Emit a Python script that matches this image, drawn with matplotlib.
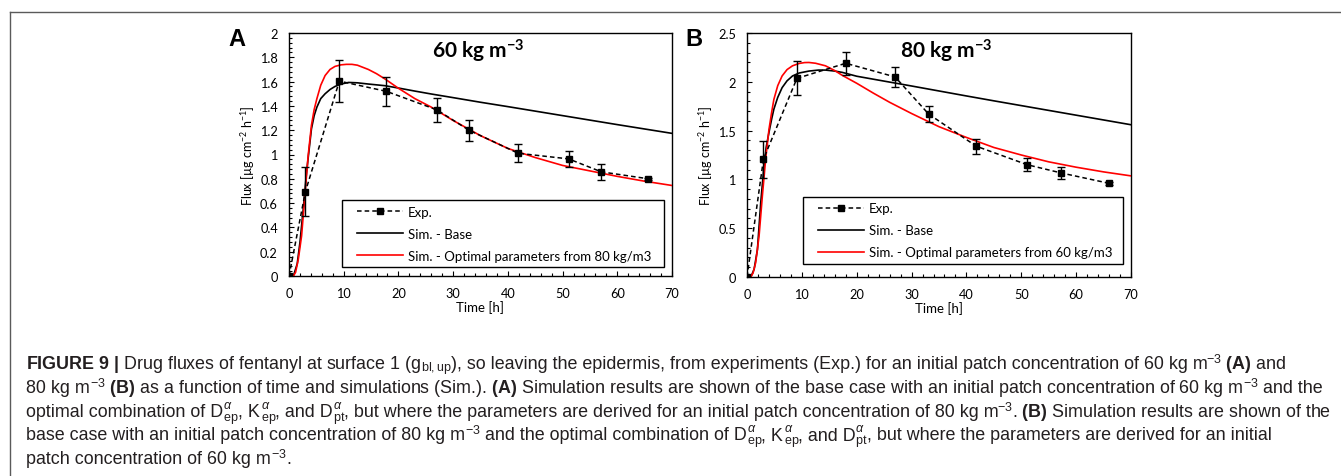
import matplotlib
matplotlib.use("Agg")
import matplotlib.pyplot as plt
from matplotlib.lines import Line2D
from matplotlib.ticker import MultipleLocator
from matplotlib.legend_handler import HandlerLine2D

plt.rcParams['mathtext.fontset'] = 'custom'
plt.rcParams['mathtext.rm'] = 'Liberation Sans'
plt.rcParams['mathtext.it'] = 'Liberation Sans:italic'
plt.rcParams['mathtext.bf'] = 'Liberation Sans:bold'
plt.rcParams['font.family'] = ['Lato', 'DejaVu Sans']

# ---------------- data ----------------
# Panel A (60 kg m-3)
expA_t = [0, 3.0, 9.2, 17.8, 27.0, 32.9, 41.9, 51.1, 57.1, 65.7]
expA_y = [0, 0.695, 1.604, 1.52, 1.368, 1.20, 1.01, 0.964, 0.857, 0.80]
expA_err = [0, 0.20, 0.17, 0.12, 0.10, 0.085, 0.075, 0.065, 0.065, 0.01]

baseA_t = [0, 0.8, 1.5, 2.0, 2.6, 3.2, 3.7, 4.1, 4.6, 5.1, 5.8, 6.6, 7.5, 8.4, 9.5,
           10.9, 12.5, 14.5, 17.6, 20, 23, 26, 30, 35, 40, 45, 50, 55, 60, 65, 70]
baseA_y = [0, 0, 0.10, 0.275, 0.55, 0.85, 1.05, 1.21, 1.32, 1.39, 1.46, 1.50, 1.535, 1.56, 1.58,
           1.593, 1.59, 1.58, 1.566, 1.547, 1.522, 1.498, 1.468, 1.43, 1.394, 1.357, 1.32,
           1.283, 1.246, 1.21, 1.174]

optA_t = [0, 0.8, 1.2, 1.7, 2.3, 2.9, 3.5, 4.1, 4.6, 5.1, 5.8, 6.6, 7.5, 8.4, 9.5, 10.5,
          11.5, 12.5, 14.5, 16, 17.6, 20, 23, 26, 30, 35, 40, 45, 50, 55, 60, 65, 70]
optA_y = [0, 0, 0.03, 0.137, 0.33, 0.66, 0.99, 1.24, 1.37, 1.46, 1.57, 1.65, 1.70, 1.725,
          1.738, 1.742, 1.742, 1.735, 1.70, 1.665, 1.62, 1.545, 1.46, 1.39, 1.28, 1.155,
          1.05, 0.975, 0.91, 0.865, 0.82, 0.78, 0.745]

# Panel B (80 kg m-3)
expB_t = [0, 3.0, 9.1, 18.0, 27.0, 33.1, 41.8, 51.1, 57.2, 66.0]
expB_y = [0, 1.207, 2.035, 2.19, 2.05, 1.67, 1.34, 1.15, 1.067, 0.96]
expB_err = [0, 0.19, 0.175, 0.12, 0.10, 0.085, 0.077, 0.068, 0.065, 0.015]

baseB_t = [0, 0.7, 1.3, 1.9, 2.5, 3.1, 3.5, 4.0, 4.5, 4.9, 5.6, 6.4, 7.3, 8.3, 9.5, 11.3,
           13, 14.3, 16, 17.4, 20, 23, 26, 30, 35, 40, 45, 50, 55, 60, 65, 70]
baseB_y = [0, 0, 0.08, 0.28, 0.76, 1.14, 1.33, 1.48, 1.62, 1.72, 1.84, 1.94, 2.01, 2.06,
           2.09, 2.11, 2.12, 2.12, 2.11, 2.096, 2.057, 2.027, 1.997, 1.957, 1.906, 1.855,
           1.805, 1.756, 1.707, 1.658, 1.609, 1.56]

optB_t = [0, 0.67, 1.1, 1.58, 2.2, 2.8, 3.4, 4.0, 4.5, 4.9, 5.6, 6.4, 7.3, 8.3, 9.5, 10.5,
          11.3, 12.5, 14.3, 16, 17.4, 20, 23, 26, 30, 35, 40, 45, 50, 55, 60, 65, 70]
optB_y = [0, 0, 0.04, 0.147, 0.42, 0.83, 1.207, 1.51, 1.69, 1.82, 1.96, 2.06, 2.125, 2.164,
          2.188, 2.197, 2.198, 2.19, 2.164, 2.115, 2.065, 1.985, 1.885, 1.79, 1.675, 1.54,
          1.43, 1.327, 1.25, 1.18, 1.125, 1.077, 1.036]

panels = [
    dict(letter='A', title='60', exp=(expA_t, expA_y, expA_err), base=(baseA_t, baseA_y),
         opt=(optA_t, optA_y), ymax=2.0, ymaj=0.2, ymin_=0.04,
         yticks=['0', '0.2', '0.4', '0.6', '0.8', '1', '1.2', '1.4', '1.6', '1.8', '2'],
         optlabel='Sim. - Optimal parameters from 80 kg/m3',
         rect=[289, 34, 672, 277], title_x=0.493, leg=(0.139, 0.035, 0.841, 0.292),
         letter_x=237),
    dict(letter='B', title='80', exp=(expB_t, expB_y, expB_err), base=(baseB_t, baseB_y),
         opt=(optB_t, optB_y), ymax=2.5, ymaj=0.5, ymin_=0.1,
         yticks=['0', '0.5', '1', '1.5', '2', '2.5'],
         optlabel='Sim. - Optimal parameters from 60 kg/m3',
         rect=[747, 34, 1131, 278], title_x=0.52, leg=(0.145, 0.052, 0.835, 0.29),
         letter_x=694),
]

# caption, split into chunks at sub/superscripts
cap_lines = [
    [r'$\mathbf{FIGURE\ 9\ |}$ Drug fluxes of fentanyl at surface 1 (g', r'$_{\mathrm{bl,up}}$',
     '), so leaving the epidermis, from experiments (Exp.) for an initial patch concentration of 60 kg m',
     r'$^{-3}$', r' $\mathbf{(A)}$ and'],
    ['80 kg m', r'$^{-3}$',
     r' $\mathbf{(B)}$ as a function of time and simulations (Sim.). $\mathbf{(A)}$ Simulation results are shown of the base case with an initial patch concentration of 60 kg m',
     r'$^{-3}$', ' and the'],
    ['optimal combination of D', r'$_{\mathrm{ep}}^{\alpha}$', ', K', r'$_{\mathrm{ep}}^{\alpha}$',
     ', and D', r'$_{\mathrm{pt}}^{\alpha}$',
     ', but where the parameters are derived for an initial patch concentration of 80 kg m',
     r'$^{-3}$', r'. $\mathbf{(B)}$ Simulation results are shown of the'],
    ['base case with an initial patch concentration of 80 kg m', r'$^{-3}$',
     ' and the optimal combination of D', r'$_{\mathrm{ep}}^{\alpha}$', ', K',
     r'$_{\mathrm{ep}}^{\alpha}$', ', and D', r'$_{\mathrm{pt}}^{\alpha}$',
     ', but where the parameters are derived for an initial'],
    ['patch concentration of 60 kg m', r'$^{-3}$', '.'],
]

W, H = 1341, 477
fig = plt.figure(figsize=(W / 100, H / 100), dpi=100)
renderer = fig.canvas.get_renderer()


def text_width(s, **kw):
    t = fig.text(0, 0, s, **kw)
    w = t.get_window_extent(renderer).width
    t.remove()
    return w


# frame lines around the figure block
fig.add_artist(Line2D([10 / W, 1.0], [1 - 13 / H, 1 - 13 / H], transform=fig.transFigure,
                      color='#5a5a5a', lw=1.0))
fig.add_artist(Line2D([10 / W, 10 / W], [0, 1 - 13 / H], transform=fig.transFigure,
                      color='#5a5a5a', lw=1.0))

# legend font sized so the long label is ~243 px wide, as in the reference
w10 = text_width(panels[0]['optlabel'], fontsize=10, family='Lato')
leg_fs = 10 * 243 / w10
leg_px = leg_fs * 100 / 72

for p in panels:
    l, t, r, b = p['rect']
    ax = fig.add_axes([l / W, 1 - b / H, (r - l) / W, (b - t) / H])
    tt, yy = p['base']
    ax.plot(tt, yy, color='black', lw=1.2, label='Sim. - Base', zorder=2)
    tt, yy = p['opt']
    ax.plot(tt, yy, color='#ff0000', lw=1.2, label=p['optlabel'], zorder=3)
    et, ey, ee = p['exp']
    ax.errorbar(et, ey, yerr=ee, fmt='none', ecolor='black', elinewidth=1.0,
                capsize=3.2, capthick=1.0, zorder=4)
    ax.plot(et, ey, color='black', lw=1.1, ls=(0, (3, 2)), marker='s', markersize=4.5,
            label='Exp.', zorder=5)

    ax.set_xlim(0, 70)
    ax.set_ylim(0, p['ymax'])
    ax.xaxis.set_major_locator(MultipleLocator(10))
    ax.xaxis.set_minor_locator(MultipleLocator(2))
    ax.yaxis.set_minor_locator(MultipleLocator(p['ymin_']))
    ax.set_yticks([i * p['ymaj'] for i in range(len(p['yticks']))])
    ax.set_yticklabels(p['yticks'])
    ax.tick_params(which='both', direction='in', top=False, right=False, width=0.8,
                   colors='black')
    ax.tick_params(which='major', length=3.5, labelsize=9.2, pad=8)
    ax.tick_params(which='minor', length=2.5)
    for s in ax.spines.values():
        s.set_linewidth(1.0)
        s.set_color('black')

    ax.set_xlabel('Time [h]', fontsize=9.5, labelpad=1)
    ax.set_ylabel(r'Flux [µg cm$^{\mathdefault{-2}}$ h$^{\mathdefault{-1}}$]', fontsize=9,
                  labelpad=2)

    ax.text(p['title_x'], 0.93, p['title'] + r' kg m$^{\mathdefault{-3}}$', transform=ax.transAxes,
            ha='center', va='center', fontsize=15, fontweight='bold')

    handles, labels = ax.get_legend_handles_labels()
    order = [2, 0, 1]
    leg = ax.legend([handles[i] for i in order], [labels[i] for i in order],
                    loc='lower left', bbox_to_anchor=p['leg'], mode='expand',
                    borderaxespad=0, fontsize=leg_fs, handlelength=55 / leg_px,
                    handletextpad=5 / leg_px, labelspacing=0.75, borderpad=0.45,
                    numpoints=1, fancybox=False, framealpha=1, edgecolor='black',
                    handler_map={Line2D: HandlerLine2D(xpad=9 / leg_px)})
    leg.get_frame().set_linewidth(1.0)
    leg.set_zorder(6)

    fig.text(p['letter_x'] / W, 1 - 40 / H, p['letter'],
             ha='center', va='center', fontsize=17, fontweight='bold',
             family='Liberation Sans')

cap_kw = dict(fontsize=12.9, family='Liberation Sans', color='#231f20',
              ha='left', va='baseline')
cap_x0 = 26
cap_y0 = 369.5
cap_dy = 23.6
for i, chunks in enumerate(cap_lines):
    y = 1 - (cap_y0 + i * cap_dy) / H
    for j, c in enumerate(chunks):
        prefix = ''.join(chunks[:j])
        x = cap_x0 + (text_width(prefix, **cap_kw) if prefix else 0)
        fig.text(x / W, y, c, **cap_kw)

fig.savefig('out.png', dpi=100)
